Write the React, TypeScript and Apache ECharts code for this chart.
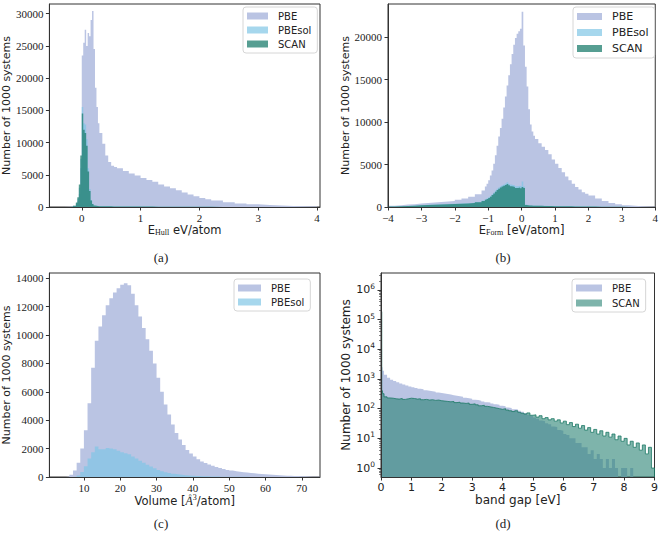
import React, { useEffect, useRef } from 'react';
import * as echarts from 'echarts';

// ---------- (a) energy above hull ----------
const hullX = [-0.55, -0.3, -0.2, -0.15, -0.1, -0.075, -0.05, -0.025, 0, 0.025, 0.05, 0.075, 0.1, 0.125, 0.15, 0.175, 0.2, 0.225, 0.25, 0.275, 0.3, 0.35, 0.4, 0.45, 0.5, 0.55, 0.6, 0.7, 0.8, 0.9, 1.0, 1.1, 1.2, 1.3, 1.4, 1.5, 1.6, 1.7, 1.8, 1.9, 2.0, 2.1, 2.2, 2.4, 2.6, 2.8, 3.0, 3.2, 3.4, 3.6, 3.8, 4.0];
const hullPBE = [0, 30, 80, 200, 500, 900, 2000, 6000, 23500, 25500, 27500, 25000, 27000, 26500, 29000, 30400, 24500, 18500, 15500, 13000, 11500, 9800, 8000, 7000, 6400, 6200, 6000, 5600, 5200, 4900, 4500, 4200, 3900, 3500, 3200, 2900, 2600, 2250, 1950, 1650, 1400, 1200, 1000, 750, 550, 420, 320, 230, 150, 100, 60, 0];
const hullPBEsol = [0, 0, 40, 150, 600, 1300, 3000, 7500, 15500, 13000, 12800, 10500, 6000, 2800, 1100, 500, 250, 180, 150, 130, 120, 110, 100, 100, 90, 90, 85, 80, 75, 70, 65, 60, 55, 50, 45, 40, 35, 30, 28, 25, 22, 20, 18, 15, 12, 10, 8, 6, 4, 3, 2, 0];
const hullSCAN = [0, 0, 50, 200, 700, 1500, 3500, 8000, 14500, 12000, 11500, 9500, 5500, 2500, 1000, 450, 250, 180, 150, 130, 120, 110, 100, 100, 90, 90, 85, 80, 75, 70, 65, 60, 55, 50, 45, 40, 35, 30, 28, 25, 22, 20, 18, 15, 12, 10, 8, 6, 4, 3, 2, 0];
const hullXTicks = [0, 1, 2, 3, 4];
const hullYTicks = [0, 5000, 10000, 15000, 20000, 25000, 30000];

// ---------- (b) formation energy ----------
const formX = [-4.0, -3.8, -3.6, -3.4, -3.2, -3.0, -2.8, -2.6, -2.4, -2.2, -2.0, -1.8, -1.6, -1.4, -1.2, -1.1, -1.05, -1.0, -0.95, -0.9, -0.85, -0.8, -0.75, -0.7, -0.65, -0.6, -0.55, -0.5, -0.45, -0.4, -0.35, -0.3, -0.25, -0.2, -0.15, -0.1, -0.05, 0.0, 0.05, 0.1, 0.15, 0.2, 0.25, 0.3, 0.35, 0.4, 0.5, 0.6, 0.7, 0.8, 0.9, 1.0, 1.1, 1.2, 1.3, 1.4, 1.5, 1.6, 1.7, 1.8, 1.9, 2.0, 2.2, 2.4, 2.6, 2.8, 3.0, 3.2, 3.4, 3.6, 3.8, 4.0];
const formPBE = [150, 220, 280, 330, 400, 460, 520, 580, 650, 720, 850, 1000, 1200, 1500, 1950, 2400, 2750, 3150, 3700, 4300, 5100, 6100, 7200, 8300, 9300, 10400, 11700, 13000, 14300, 15500, 16800, 18000, 19100, 19900, 20400, 20700, 21000, 23000, 19000, 16500, 14200, 11500, 9700, 8900, 8400, 8000, 7500, 7100, 6700, 6200, 5600, 5100, 4600, 4100, 3600, 3150, 2750, 2350, 2050, 1750, 1550, 1350, 1000, 700, 480, 330, 220, 140, 90, 50, 25, 0];
const formPBEsol = [55, 90, 130, 175, 215, 260, 290, 320, 350, 380, 410, 445, 500, 600, 760, 920, 1030, 1140, 1300, 1500, 1720, 1930, 2150, 2300, 2450, 2560, 2660, 2760, 2900, 2750, 2650, 2600, 2550, 2450, 2450, 2500, 2450, 3000, 2400, 280, 220, 195, 185, 175, 165, 155, 145, 135, 125, 115, 108, 100, 95, 90, 85, 80, 75, 70, 65, 60, 55, 50, 40, 32, 26, 20, 15, 11, 8, 5, 3, 0];
const formSCAN = [50, 80, 120, 160, 200, 240, 270, 300, 330, 360, 390, 420, 470, 560, 700, 850, 950, 1050, 1200, 1400, 1600, 1800, 2000, 2150, 2300, 2400, 2500, 2600, 2700, 2550, 2450, 2400, 2350, 2250, 2250, 2300, 2200, 2350, 2250, 250, 200, 180, 170, 160, 150, 145, 135, 125, 115, 105, 100, 95, 90, 85, 80, 75, 70, 65, 60, 55, 50, 45, 38, 30, 24, 18, 14, 10, 7, 5, 3, 0];
const formXTicks = [-4, -3, -2, -1, 0, 1, 2, 3, 4];
const formYTicks = [0, 5000, 10000, 15000, 20000];

// ---------- (c) volume ----------
const volX = [4, 5, 6, 7, 8, 9, 10, 11, 12, 13, 14, 15, 16, 17, 18, 19, 20, 21, 22, 23, 24, 25, 26, 27, 28, 29, 30, 31, 32, 33, 34, 35, 36, 37, 38, 39, 40, 41, 42, 43, 44, 45, 46, 47, 48, 49, 50, 51, 52, 53, 54, 55, 56, 57, 58, 59, 60, 61, 62, 63, 64, 65, 66, 67, 68, 69, 70, 71, 72, 73, 74, 75];
const volPBE = [0, 30, 150, 450, 1000, 2000, 3300, 5200, 7700, 9600, 10600, 11400, 12100, 12600, 13000, 13300, 13550, 13650, 13500, 12900, 12100, 11300, 10500, 9700, 8900, 8000, 7000, 6000, 5100, 4400, 3700, 3100, 2650, 2250, 1900, 1650, 1450, 1250, 1100, 980, 880, 790, 700, 630, 560, 500, 450, 410, 370, 340, 310, 285, 260, 235, 215, 195, 175, 155, 140, 125, 110, 95, 85, 75, 65, 55, 45, 35, 25, 18, 10, 0];
const volPBEsol = [0, 0, 0, 20, 100, 350, 750, 1300, 1750, 2150, 1950, 1950, 2050, 2000, 1950, 1850, 1750, 1680, 1600, 1450, 1300, 1150, 1000, 870, 740, 620, 500, 410, 340, 280, 230, 190, 155, 125, 105, 90, 75, 65, 55, 48, 40, 35, 30, 26, 22, 19, 16, 14, 12, 10, 9, 8, 7, 6, 5, 4, 3, 3, 2, 2, 1, 1, 1, 0, 0, 0, 0, 0, 0, 0, 0, 0];
const volXTicks = [10, 20, 30, 40, 50, 60, 70];
const volYTicks = [0, 2000, 4000, 6000, 8000, 10000, 12000, 14000];

// ---------- (d) band gap (log) ----------
const gapX = [0, 0.025, 0.05, 0.1, 0.2, 0.3, 0.4, 0.5, 0.6, 0.7, 0.8, 0.9, 1.0, 1.1, 1.2, 1.3, 1.4, 1.5, 1.6, 1.7, 1.8, 1.9, 2.0, 2.1, 2.2, 2.3, 2.4, 2.5, 2.6, 2.7, 2.8, 2.9, 3.0, 3.1, 3.2, 3.3, 3.4, 3.5, 3.6, 3.7, 3.8, 3.9, 4.0, 4.1, 4.2, 4.3, 4.4, 4.5, 4.6, 4.7, 4.8, 4.9, 5.0, 5.1, 5.2, 5.3, 5.4, 5.5, 5.6, 5.7, 5.8, 5.9, 6.0, 6.1, 6.2, 6.3, 6.4, 6.5, 6.6, 6.7, 6.8, 6.9, 7.0, 7.1, 7.2, 7.3, 7.4, 7.5, 7.6, 7.7, 7.8, 7.9, 8.0, 8.1, 8.2, 8.3, 8.4, 8.5, 8.6, 8.7, 8.8, 8.9, 9.0];
const gapPBE = [170000, 2500, 1900, 1400, 1100, 950, 850, 780, 700, 650, 600, 560, 530, 500, 470, 450, 420, 400, 385, 370, 350, 340, 325, 310, 300, 285, 270, 260, 250, 235, 225, 215, 200, 195, 185, 175, 165, 160, 150, 140, 135, 125, 120, 110, 105, 95, 95, 85, 78, 72, 62, 58, 50, 46, 40, 38, 32, 30, 25, 24, 19, 18, 14, 13, 10, 10, 7, 7, 5, 5, 3, 4, 2, 3, 2, 1, 2, 1, 2, 1, 0, 1, 1, 0, 1, 0, 0, 0, 0, 0, 0, 0, 0];
const gapSCAN = [185000, 400, 320, 250, 230, 225, 215, 210, 220, 205, 215, 225, 220, 210, 215, 200, 205, 195, 200, 190, 195, 185, 180, 175, 170, 175, 160, 165, 155, 150, 155, 140, 145, 135, 125, 130, 120, 115, 110, 105, 100, 95, 100, 90, 85, 80, 85, 75, 70, 66, 72, 60, 62, 52, 58, 46, 50, 42, 46, 38, 42, 33, 38, 29, 34, 25, 30, 22, 27, 19, 23, 16, 20, 14, 18, 12, 16, 11, 14, 9, 12, 8, 10, 6, 8, 5, 7, 4, 6, 3, 5, 1, 0];
const gapXTicks = [0, 1, 2, 3, 4, 5, 6, 7, 8, 9];
const gapYTicks = [1, 10, 100, 1000, 10000, 100000, 1000000];
const gapYMinor = [0.6, 0.7, 0.8, 0.9, 2, 3, 4, 5, 6, 7, 8, 9, 20, 30, 40, 50, 60, 70, 80, 90, 200, 300, 400, 500, 600, 700, 800, 900, 2000, 3000, 4000, 5000, 6000, 7000, 8000, 9000, 20000, 30000, 40000, 50000, 60000, 70000, 80000, 90000, 200000, 300000, 400000, 500000, 600000, 700000, 800000, 900000, 2000000, 3000000];

const LOG_MIN = 0.5;

const C_PBE = '#bac4e3';
const C_PBESOL = 'rgba(128,198,230,0.7)';
const C_SCAN = 'rgba(30,125,110,0.75)';
const C_SCAN_D = 'rgba(40,130,115,0.6)';
const C_SCAN_LINE = '#1d7a66';

const SERIF = '"Liberation Serif", "DejaVu Serif", serif';
const SANS = '"DejaVu Sans", sans-serif';
const AX = '#333';

function hist(name: string, xs: number[], ys: number[], idx: number, color: string, log = false, line?: string) {
  return {
    type: 'line',
    name,
    xAxisIndex: idx,
    yAxisIndex: idx,
    data: xs.map((x, i) => [x, log ? Math.max(ys[i], LOG_MIN) : ys[i]]),
    step: 'end',
    symbol: 'none',
    showSymbol: false,
    silent: true,
    lineStyle: line ? { width: 0.8, color: line } : { width: 0, opacity: 0 },
    itemStyle: { color },
    areaStyle: { color, opacity: 1, origin: 'start' },
  };
}

const minus = (v: number) => (v < 0 ? '\u2212' + Math.abs(v) : String(v));

function xAxis(idx: number, min: number, max: number, ticks: number[], name: string, serif: boolean, rich: any = {}) {
  return {
    type: 'value',
    gridIndex: idx,
    min,
    max,
    z: 5,
    splitLine: { show: false },
    axisLine: { show: true, onZero: false, lineStyle: { color: AX, width: 1 } },
    axisTick: { show: true, length: 3.5, customValues: ticks, lineStyle: { color: AX } },
    axisLabel: {
      customValues: ticks,
      formatter: minus,
      fontFamily: serif ? SERIF : SANS,
      fontSize: 11,
      color: '#222',
      margin: 5,
    },
    name,
    nameLocation: 'middle',
    nameGap: serif ? 15 : 16,
    nameTextStyle: { fontFamily: SANS, fontSize: serif ? 11.5 : 12, color: '#222', rich },
  };
}

function yAxis(idx: number, max: number, ticks: number[], gap: number) {
  return {
    type: 'value',
    gridIndex: idx,
    min: 0,
    max,
    z: 5,
    splitLine: { show: false },
    axisLine: { show: true, onZero: false, lineStyle: { color: AX, width: 1 } },
    axisTick: { show: true, length: 3.5, customValues: ticks, lineStyle: { color: AX } },
    axisLabel: {
      customValues: ticks,
      formatter: (v: number) => String(v),
      fontFamily: SERIF,
      fontSize: 11,
      color: '#222',
      margin: 6,
    },
    name: 'Number of 1000 systems',
    nameLocation: 'middle',
    nameGap: gap,
    nameRotate: 90,
    nameTextStyle: { fontFamily: SANS, fontSize: 11, color: '#222' },
  };
}

function legend(left: number, top: number, names: string[], colors: string[], fontSize: number, itemWidth: number, gap: number) {
  return {
    left,
    top,
    orient: 'vertical',
    icon: 'rect',
    itemWidth,
    itemHeight: 7,
    itemGap: gap,
    selectedMode: false,
    padding: [4, 6, 4, 4],
    borderColor: '#d6d6d6',
    borderWidth: 1,
    borderRadius: 3,
    backgroundColor: 'rgba(255,255,255,0.85)',
    textStyle: { fontFamily: SANS, fontSize, color: '#222', padding: [0, 0, 0, 5] },
    data: names.map((n, i) => ({ name: n, itemStyle: { color: colors[i], borderWidth: 0 } })),
  };
}

export default function App() {
  const ref = useRef<HTMLDivElement>(null);
  useEffect(() => {
    if (!ref.current) return;
    const chart = echarts.init(ref.current, null, { renderer: 'svg' });
    const subRich = { s: { fontFamily: SERIF, fontSize: 8, padding: [5, 0, 0, 0], color: '#222' } };
    const volRich = {
      i: { fontFamily: SERIF, fontStyle: 'italic', fontSize: 12, color: '#222' },
      u: { fontFamily: SERIF, fontSize: 8, padding: [0, 0, 6, 0], color: '#222' },
    };
    const option: any = {
      animation: false,
      backgroundColor: '#fff',
      grid: [
        { left: 47, top: 4, width: 273, height: 203, show: true, borderColor: AX, borderWidth: 1 },
        { left: 388, top: 4, width: 269, height: 203, show: true, borderColor: AX, borderWidth: 1 },
        { left: 47, top: 273, width: 273, height: 204, show: true, borderColor: AX, borderWidth: 1 },
        { left: 381, top: 273, width: 275, height: 204, show: true, borderColor: AX, borderWidth: 1 },
      ],
      xAxis: [
        xAxis(0, -0.55, 4.05, hullXTicks, 'E{s|Hull} eV/atom', true, subRich),
        xAxis(1, -4, 4, formXTicks, 'E{s|Form} [eV/atom]', true, subRich),
        xAxis(2, 0.5, 75, volXTicks, 'Volume [{i|\u00C5}{u|3}/atom]', true, volRich),
        xAxis(3, 0, 9, gapXTicks, 'band gap [eV]', false),
      ],
      yAxis: [
        yAxis(0, 31500, hullYTicks, 33),
        yAxis(1, 23900, formYTicks, 36),
        yAxis(2, 14370, volYTicks, 34),
        {
          type: 'log',
          logBase: 10,
          gridIndex: 3,
          min: LOG_MIN,
          max: 3.7e6,
          z: 5,
          splitLine: { show: false },
          axisLine: { show: true, onZero: false, lineStyle: { color: AX, width: 1 } },
          axisTick: { show: true, length: 3.5, customValues: gapYTicks, lineStyle: { color: AX } },
          axisLabel: {
            customValues: gapYTicks,
            margin: 6,
            formatter: (v: number) => `{b|10}{s|${Math.round(Math.log10(v))}}`,
            rich: {
              b: { fontFamily: SANS, fontSize: 11, color: '#222' },
              s: { fontFamily: SANS, fontSize: 7.5, color: '#222', padding: [0, 0, 7, 0] },
            },
          },
          name: 'Number of 1000 systems',
          nameLocation: 'middle',
          nameGap: 27,
          nameRotate: 90,
          nameTextStyle: { fontFamily: SANS, fontSize: 12, color: '#222' },
        },
        {
          type: 'log',
          logBase: 10,
          gridIndex: 3,
          position: 'left',
          offset: 0,
          min: LOG_MIN,
          max: 3.7e6,
          z: 5,
          splitLine: { show: false },
          axisLine: { show: false, onZero: false },
          axisLabel: { show: false },
          axisTick: { show: true, length: 2, customValues: gapYMinor, lineStyle: { color: AX, width: 0.6 } },
        },
      ],
      legend: [
        legend(243, 7, ['PBE', 'PBEsol', 'SCAN'], [C_PBE, C_PBESOL, C_SCAN], 10, 21, 4),
        legend(573, 7, ['PBE', 'PBEsol', 'SCAN'], [C_PBE, C_PBESOL, C_SCAN], 11, 25, 5),
        legend(234, 279, ['PBE', 'PBEsol'], [C_PBE, C_PBESOL], 10, 23, 4),
        legend(572, 279, ['PBE', 'SCAN'], [C_PBE, C_SCAN_D], 10, 26, 5),
      ],
      series: [
        hist('PBE', hullX, hullPBE, 0, C_PBE),
        hist('PBEsol', hullX, hullPBEsol, 0, C_PBESOL),
        hist('SCAN', hullX, hullSCAN, 0, C_SCAN),
        hist('PBE', formX, formPBE, 1, C_PBE),
        hist('PBEsol', formX, formPBEsol, 1, C_PBESOL),
        hist('SCAN', formX, formSCAN, 1, C_SCAN),
        hist('PBE', volX, volPBE, 2, C_PBE),
        hist('PBEsol', volX, volPBEsol, 2, C_PBESOL),
        hist('PBE', gapX, gapPBE, 3, C_PBE, true),
        hist('SCAN', gapX, gapSCAN, 3, C_SCAN_D, true, C_SCAN_LINE),
      ],
      graphic: [
        { type: 'text', x: 161, y: 257, style: { text: '(a)', fontFamily: SERIF, fontSize: 13, fill: '#222', align: 'center', verticalAlign: 'middle' } },
        { type: 'text', x: 503, y: 257, style: { text: '(b)', fontFamily: SERIF, fontSize: 13, fill: '#222', align: 'center', verticalAlign: 'middle' } },
        { type: 'text', x: 161, y: 523, style: { text: '(c)', fontFamily: SERIF, fontSize: 13, fill: '#222', align: 'center', verticalAlign: 'middle' } },
        { type: 'text', x: 503, y: 523, style: { text: '(d)', fontFamily: SERIF, fontSize: 13, fill: '#222', align: 'center', verticalAlign: 'middle' } },
      ],
    };
    chart.setOption(option);
    return () => chart.dispose();
  }, []);
  return <div ref={ref} style={{ width: 661, height: 538, position: 'absolute', left: 0, top: 0 }} />;
}
